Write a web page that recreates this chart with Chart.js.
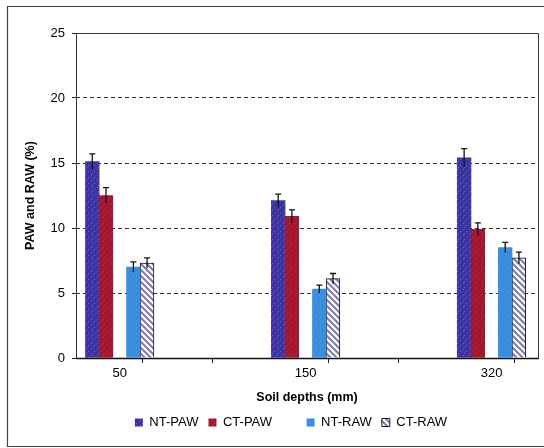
<!DOCTYPE html>
<html>
<head>
<meta charset="utf-8">
<script src="https://cdn.jsdelivr.net/npm/chart.js@4/dist/chart.umd.min.js"></script>
<style>
  html, body { margin: 0; padding: 0; background: #fff; }
  #wrap { width: 544px; height: 448px; position: relative; }
</style>
</head>
<body>
<div id="wrap"><canvas id="c" width="544" height="448"></canvas></div>
<script>
// Soil depths and water measures (%)
const depths = ['50', '150', '320'];
const ntPaw = [15.1, 12.1, 15.4];
const ctPaw = [12.5, 10.9, 9.9];
const ntRaw = [7.0, 5.3, 8.5];
const ctRaw = [7.3, 6.1, 7.7];
// Standard errors
const ntPawErr = [0.6, 0.5, 0.7];
const ctPawErr = [0.6, 0.5, 0.5];
const ntRawErr = [0.4, 0.3, 0.4];
const ctRawErr = [0.4, 0.4, 0.45];
// Axis ticks
const yTicks = [0, 5, 10, 15, 20, 25];
const xTickStops = [0, 0.25, 0.75, 1, 1.25, 1.75, 2, 2.25];

const FONT = "'Liberation Sans', Arial, sans-serif";

function speckle(base, dot) {
  const c = document.createElement('canvas');
  c.width = 6; c.height = 6;
  const g = c.getContext('2d');
  g.fillStyle = base; g.fillRect(0, 0, 6, 6);
  g.fillStyle = dot;
  g.fillRect(1, 1, 1, 1); g.fillRect(4, 3, 1, 1); g.fillRect(2, 5, 1, 1);
  return g.createPattern(c, 'repeat');
}
function hatch() {
  const s = 6;
  const c = document.createElement('canvas');
  c.width = s; c.height = s;
  const g = c.getContext('2d');
  g.fillStyle = '#7f7bb2'; g.fillRect(0, 0, s, s);
  g.strokeStyle = '#ffffff'; g.lineWidth = 2.2;
  g.beginPath();
  g.moveTo(-s, 0); g.lineTo(s * 2, s * 3);
  g.moveTo(0, -s); g.lineTo(s * 2, s);
  g.moveTo(-s, -s); g.lineTo(s, s);
  g.moveTo(-2 * s, -s); g.lineTo(s, 2 * s);
  g.stroke();
  return g.createPattern(c, 'repeat');
}

const toPoints = arr => arr.map((v, i) => ({ x: i, y: v }));

const datasets = [
  { label: 'NT-PAW', data: toPoints(ntPaw), errors: ntPawErr,
    backgroundColor: speckle('#3d33a0', '#6d68c6'), borderWidth: 0 },
  { label: 'CT-PAW', data: toPoints(ctPaw), errors: ctPawErr,
    backgroundColor: speckle('#a3172e', '#b8344a'), borderWidth: 0 },
  { label: '', data: depths.map((d, i) => ({ x: i, y: null })),
    backgroundColor: 'rgba(0,0,0,0)', borderWidth: 0 },
  { label: 'NT-RAW', data: toPoints(ntRaw), errors: ntRawErr,
    backgroundColor: speckle('#3a8ddd', '#4f9ce4'), borderWidth: 0 },
  { label: 'CT-RAW', data: toPoints(ctRaw), errors: ctRawErr,
    backgroundColor: hatch(), borderColor: '#1a1a1a', borderWidth: 1 }
];

// Error bars drawn on top of each bar
const errorBars = {
  id: 'errorBars',
  afterDatasetsDraw(chart) {
    const { ctx } = chart;
    const y = chart.scales.y;
    chart.data.datasets.forEach((ds, i) => {
      if (!ds.errors) return;
      const meta = chart.getDatasetMeta(i);
      meta.data.forEach((bar, j) => {
        const v = ds.data[j].y;
        const top = y.getPixelForValue(v + ds.errors[j]);
        const bot = y.getPixelForValue(v - ds.errors[j]);
        ctx.save();
        ctx.strokeStyle = '#111';
        ctx.lineWidth = 1.3;
        ctx.beginPath();
        ctx.moveTo(bar.x, bot); ctx.lineTo(bar.x, top);
        ctx.moveTo(bar.x - 3, top); ctx.lineTo(bar.x + 3, top);
        ctx.stroke();
        ctx.restore();
      });
    });
  }
};

// Outer frame and plot border
const frames = {
  id: 'frames',
  beforeDraw(chart) {
    const ctx = chart.ctx;
    ctx.save();
    ctx.fillStyle = '#fff';
    ctx.fillRect(0, 0, chart.width, chart.height);
    ctx.strokeStyle = '#444';
    ctx.lineWidth = 1.2;
    ctx.beginPath();
    ctx.moveTo(chart.width, 6.5);
    ctx.lineTo(7.5, 6.5);
    ctx.lineTo(7.5, 446.5);
    ctx.lineTo(chart.width, 446.5);
    ctx.stroke();
    ctx.restore();
  },
  beforeDatasetsDraw(chart) {
    const { ctx, chartArea: a } = chart;
    ctx.save();
    ctx.strokeStyle = '#333';
    ctx.lineWidth = 1;
    ctx.beginPath();
    ctx.moveTo(Math.round(a.left) + 0.5, a.bottom);
    ctx.lineTo(Math.round(a.left) + 0.5, Math.round(a.top) + 0.5);
    ctx.lineTo(Math.round(a.right) + 0.5, Math.round(a.top) + 0.5);
    ctx.lineTo(Math.round(a.right) + 0.5, a.bottom);
    ctx.stroke();
    ctx.strokeStyle = '#111';
    ctx.lineWidth = 1.4;
    ctx.beginPath();
    ctx.moveTo(a.left, Math.round(a.bottom) + 0.5);
    ctx.lineTo(a.right + 1, Math.round(a.bottom) + 0.5);
    ctx.stroke();
    ctx.restore();
  }
};

// Nudge the legend row to sit under the plot
const legendShift = {
  id: 'legendShift',
  afterLayout(chart) {
    const lg = chart.legend;
    if (lg) { lg.left += 22; lg.right += 22; }
  }
};

new Chart(document.getElementById('c'), {
  type: 'bar',
  data: { datasets },
  plugins: [frames, errorBars, legendShift],
  options: {
    responsive: false,
    animation: false,
    devicePixelRatio: 1,
    layout: { padding: { top: 33, right: 6, bottom: 9, left: 0 } },
    datasets: { bar: { barThickness: 13.7 } },
    plugins: {
      tooltip: { enabled: false },
      legend: {
        position: 'bottom',
        labels: {
          boxWidth: 8, boxHeight: 8, padding: 10, color: '#000',
          font: { family: FONT, size: 13 }
        }
      }
    },
    scales: {
      x: {
        type: 'linear', min: -0.235, max: 2.25, offset: false,
        afterBuildTicks: s => { s.ticks = xTickStops.map(v => ({ value: v })); },
        ticks: {
          autoSkip: false, maxRotation: 0, padding: 3, color: '#000',
          font: { family: FONT, size: 13 },
          callback: v => Number.isInteger(v) ? depths[v] : ''
        },
        grid: {
          drawOnChartArea: false, tickLength: 5, lineWidth: 1,
          tickColor: c => (c.tick && Number.isInteger(c.tick.value)) ? 'rgba(0,0,0,0)' : '#222'
        },
        border: { display: false },
        title: {
          display: true, text: 'Soil depths (mm)', color: '#000',
          font: { family: FONT, size: 12.5, weight: 'bold' },
          padding: { top: 0, bottom: 1 }
        },
        afterFit: s => { s.height = 48; }
      },
      y: {
        min: 0, max: 25,
        afterBuildTicks: s => { s.ticks = yTicks.map(v => ({ value: v })); },
        ticks: { padding: 7, color: '#000', font: { family: FONT, size: 13 } },
        grid: {
          lineWidth: 1, tickLength: 4, tickColor: '#222',
          color: c => (c.tick && (c.tick.value === 0 || c.tick.value === 25)) ? 'rgba(0,0,0,0)' : '#333'
        },
        border: { display: false, dash: [4, 3] },
        title: {
          display: true, text: 'PAW and RAW (%)', color: '#000',
          font: { family: FONT, size: 12.5, weight: 'bold' },
          padding: { top: 23, bottom: 0 }
        },
        afterFit: s => { s.width = 76; }
      }
    }
  }
});
</script>
</body>
</html>
